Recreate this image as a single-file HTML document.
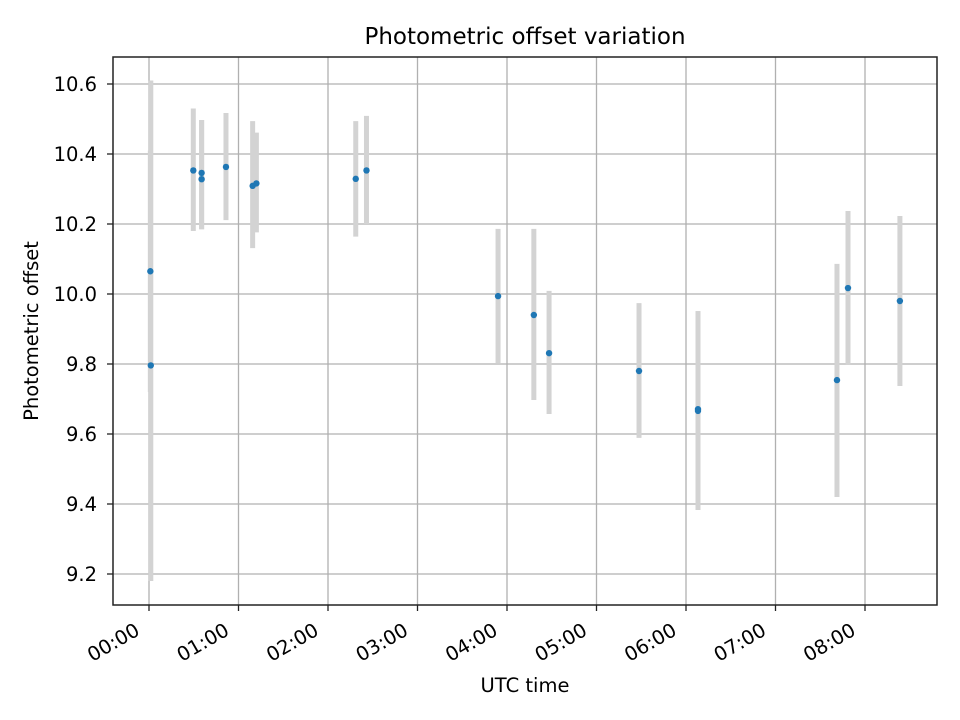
<!DOCTYPE html>
<html><head><meta charset="utf-8"><style>
html,body{margin:0;padding:0;background:#fff}
svg{display:block;font-family:"DejaVu Sans","Liberation Sans",sans-serif}
</style></head><body>
<svg id="chart" width="960" height="720" viewBox="0 0 960 720">
<rect width="960" height="720" fill="#fff"/>
<text x="525" y="44" font-size="23" text-anchor="middle" fill="#000">Photometric offset variation</text>
<text x="525" y="692" font-size="19.5" text-anchor="middle" fill="#000">UTC time</text>
<text transform="translate(38,331) rotate(-90)" font-size="19.5" text-anchor="middle" fill="#000">Photometric offset</text>
<g id="grid"></g><g id="bars"></g><g id="pts"></g><g id="axes"></g>
</svg>
<script>
const times = [0.015,0.02,0.495,0.588,0.588,0.86,1.158,1.2,2.31,2.43,3.9,4.30,4.47,5.475,6.134,6.134,7.687,7.81,8.39];
const values = [10.065,9.796,10.353,10.346,10.328,10.363,10.309,10.316,10.329,10.353,9.994,9.94,9.831,9.78,9.671,9.666,9.754,10.017,9.98];
const errHigh = [10.41,10.61,10.53,10.497,10.497,10.517,10.494,10.461,10.494,10.509,10.186,10.186,10.009,9.974,9.951,9.951,10.086,10.237,10.223];
const errLow = [9.72,9.18,10.18,10.185,10.185,10.211,10.131,10.176,10.164,10.2,9.803,9.697,9.657,9.589,9.383,9.383,9.42,9.797,9.737];
const xTicks = [0,1,2,3,4,5,6,7,8];
const xTickLabels = ["00:00","01:00","02:00","03:00","04:00","05:00","06:00","07:00","08:00"];
const yTicks = [9.2,9.4,9.6,9.8,10.0,10.2,10.4,10.6];
const yTickLabels = ["9.2","9.4","9.6","9.8","10.0","10.2","10.4","10.6"];

const L=113,R=937,T=57,B=605;
const x=t=>149+t*89.5;
const y=v=>84+(10.6-v)*350;
const NS="http://www.w3.org/2000/svg";
function mk(tag,parent,attrs){const e=document.createElementNS(NS,tag);for(const k in attrs)e.setAttribute(k,attrs[k]);parent.appendChild(e);return e;}
const grid=document.getElementById('grid'),bars=document.getElementById('bars'),pts=document.getElementById('pts'),axes=document.getElementById('axes');
xTicks.forEach((t,i)=>{
  const g=mk('line',grid,{x1:x(t),x2:x(t),y1:T,y2:B,stroke:'#b0b0b0','stroke-width':1.3});
  
  
  const tk=mk('line',axes,{x1:x(t),x2:x(t),y1:B,y2:B+6,stroke:'#222','stroke-width':1.3});
  
  
  const lb=mk('text',axes,{x:0,y:0,'font-size':19.5,'text-anchor':'end',fill:'#000',transform:`translate(${x(t)-8},${B+29}) rotate(-30)`});
  lb.textContent=xTickLabels[i];
  
  
});
yTicks.forEach((v,i)=>{
  const g=mk('line',grid,{x1:L,x2:R,y1:y(v),y2:y(v),stroke:'#b0b0b0','stroke-width':1.3});
  
  
  const tk=mk('line',axes,{x1:L-6,x2:L,y1:y(v),y2:y(v),stroke:'#222','stroke-width':1.3});
  
  
  const lb=mk('text',axes,{x:L-16,y:y(v)+7,'font-size':19.5,'text-anchor':'end',fill:'#000'});
  lb.textContent=yTickLabels[i];
  
  
});
times.forEach((t,i)=>{
  const b=mk('line',bars,{x1:x(t),x2:x(t),y1:y(errHigh[i]),y2:y(errLow[i]),stroke:'#d3d3d3','stroke-width':5});
  
  
});
times.forEach((t,i)=>{
  const c=mk('circle',pts,{cx:x(t),cy:y(values[i]),r:3.2,fill:'#1f77b4'});
  
  
});
const fr=mk('rect',axes,{x:L,y:T,width:R-L,height:B-T,fill:'none',stroke:'#222','stroke-width':1.5});


</script>
</body></html>
